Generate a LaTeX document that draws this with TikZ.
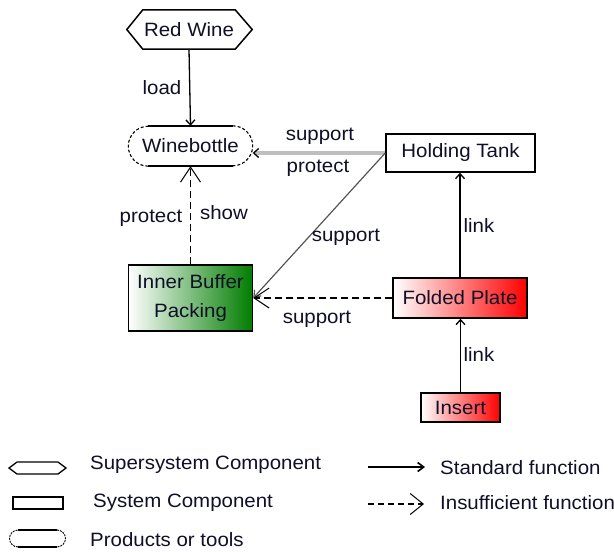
\documentclass[tikz,border=0pt]{standalone}
\usepackage{fontspec}
\setmainfont{Liberation Sans}[FakeStretch=1.06]
\usetikzlibrary{arrows.meta}
\definecolor{txt}{RGB}{15,15,40}
\definecolor{supline}{RGB}{190,190,190}
\definecolor{diagline}{RGB}{85,85,85}
\definecolor{leafgreen}{RGB}{0,125,0}
\definecolor{hotred}{RGB}{255,0,0}
\tikzset{
  lbl/.style={font=\fontsize{19.3}{22}\selectfont, text=txt, inner sep=0pt},
  comp/.style={lbl, draw=black, line width=1.5pt},
  border/.style={draw=black, line width=1.5pt},
  softend/.style={draw=black, line width=1.1pt, dash pattern=on 3pt off 2pt},
  std/.style={draw=black, line width=1.3pt,
    -{Straight Barb[length=5pt,width=9pt,line width=1.3pt]}},
  weak/.style={draw=black, line width=1.3pt, dash pattern=on 7pt off 4pt,
    -{Straight Barb[length=15pt,width=20pt,line width=1pt]}},
}
\begin{document}
\begin{tikzpicture}[x=1pt,y=-1pt]
  \useasboundingbox (0,0) rectangle (614,552);
  \clip (0,0) rectangle (614,552);

  % supersystem component (hexagon)
  \node[lbl, minimum width=92pt, minimum height=39pt] (rw) at (189,29.5) {Red Wine};
  \draw[border] (rw.north west) -- (rw.north east) -- ([xshift=17pt]rw.east)
    -- (rw.south east) -- (rw.south west) -- ([xshift=-16pt]rw.west) -- cycle;

  % product (rounded ends)
  \node[lbl, minimum width=124pt, minimum height=40pt] (wb) at (190.5,146) {Winebottle};
  \draw[border] ([xshift=20pt]wb.north west) -- ([xshift=-20pt]wb.north east);
  \draw[border] ([xshift=20pt]wb.south west) -- ([xshift=-20pt]wb.south east);
  \draw[softend] ([xshift=-20pt]wb.north east) arc[start angle=90, end angle=-90, radius=20pt];
  \draw[softend] ([xshift=20pt]wb.south west) arc[start angle=270, end angle=90, radius=20pt];

  % system components
  \node[comp, minimum width=149pt, minimum height=38pt] (ht) at (460.5,153) {Holding Tank};
  \node[comp, left color=white, right color=leafgreen, minimum width=124pt,
        minimum height=66pt, align=center, font=\fontsize{19.3}{29.5}\selectfont]
        (ibp) at (190.5,298) {Inner Buffer\\Packing};
  \node[comp, left color=white, right color=hotred, minimum width=134pt,
        minimum height=40pt] (fp) at (460,298) {Folded Plate};
  \node[comp, left color=white, right color=hotred, minimum width=79pt,
        minimum height=29pt] (ins) at (460.5,407.5) {Insert};

  % functions
  \draw[std] (rw.south) -- (wb.north);
  \draw[line width=4pt, draw=supline,
    -{Straight Barb[length=5pt,width=9pt,line width=1.3pt,color=black]}]
    (ht.west) -- (ht.west -| wb.east);
  \draw[draw=diagline, line width=1.2pt,
    -{Straight Barb[length=6pt,width=9pt,line width=1.2pt]}] (ht.west) -- (ibp.east);
  \draw[weak] (ibp.north) -- (wb.south);
  \draw[weak] (fp.west) -- (ibp.east);
  \draw[std] (fp.north) -- (fp.north |- ht.south);
  \draw[std] (ins.north) -- (ins.north |- fp.south);

  % function labels
  \node[lbl] (t1) at (162,88) {load};
  \node[lbl] (t2) at (320,136) {support};
  \node[lbl] (t3) at (318,168) {protect};
  \node[lbl] (t4) at (151,218) {protect};
  \node[lbl] (t5) at (224,213) {show};
  \node[lbl] (t6) at (346,237) {support};
  \node[lbl] (t7) at (317,319) {support};
  \node[lbl] (t8) at (479,226) {link};
  \node[lbl] (t9) at (479,355) {link};

  % legend
  \draw[border, line width=1.3pt] (9,468) -- (17,462) -- (58,462) -- (66,468)
    -- (58,474) -- (17,474) -- cycle;
  \draw[border, line width=1.3pt] (13,497) rectangle (63,509);
  \draw[border, line width=1.3pt] (18,530) -- (57,530);
  \draw[border, line width=1.3pt] (18,547) -- (57,547);
  \draw[softend, line width=0.9pt, dash pattern=on 2pt off 1pt] (57,530) arc[start angle=90, end angle=-90, radius=8.5pt];
  \draw[softend, line width=0.9pt, dash pattern=on 2pt off 1pt] (18,547) arc[start angle=270, end angle=90, radius=8.5pt];
  \node[lbl, anchor=west] (k1) at (90,465) {Supersystem Component};
  \node[lbl, anchor=west] (k2) at (93,503) {System Component};
  \node[lbl, anchor=west] (k3) at (90,540) {Products or tools};

  \coordinate (a1) at (368,467);
  \coordinate (a2) at (425,467);
  \coordinate (b1) at (368,504);
  \coordinate (b2) at (424,504);
  \draw[std, -{Straight Barb[length=6pt,width=9pt,line width=1.6pt]}] (a1) -- (a2);
  \draw[draw=black, line width=1.3pt, dash pattern=on 6pt off 4pt,
    -{Straight Barb[length=13pt,width=21pt,line width=1pt]}] (b1) -- (b2);
  \node[lbl, anchor=west] (k4) at (440,468) {Standard function};
  \node[lbl, anchor=west] (k5) at (440,503) {Insufficient function};
\end{tikzpicture}
\end{document}
